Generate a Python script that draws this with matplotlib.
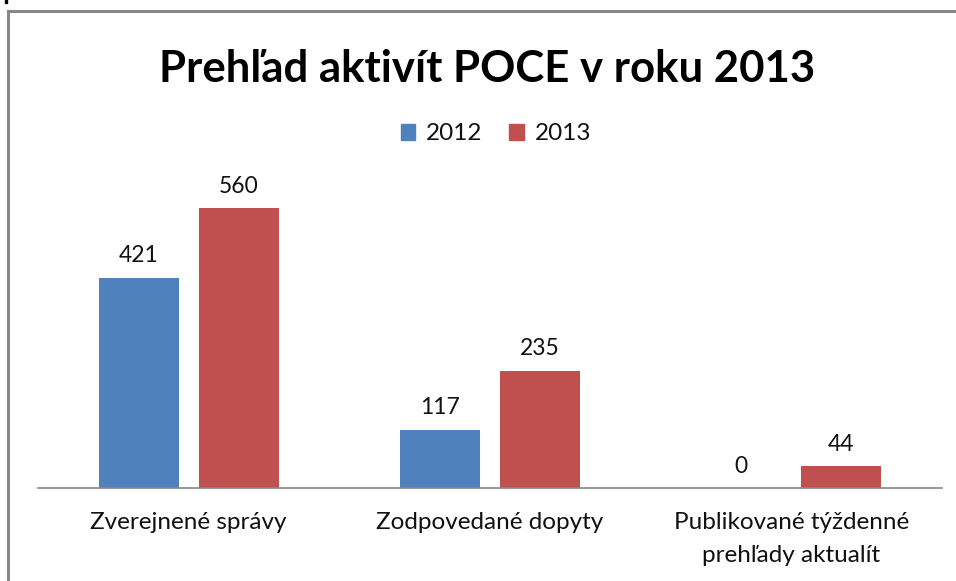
import matplotlib
matplotlib.use("Agg")
import matplotlib.pyplot as plt
from matplotlib.lines import Line2D
from matplotlib.patches import Rectangle
import numpy as np

categories = ["Zverejnené správy", "Zodpovedané dopyty", "Publikované týždenné\nprehľady aktualít"]
series_names = ["2012", "2013"]
values_2012 = [421, 117, 0]
values_2013 = [560, 235, 44]
colors = ["#4F81BD", "#C0504D"]
title = "Prehľad aktivít POCE v roku 2013"

plt.rcParams['font.family'] = ['Lato', 'DejaVu Sans']

W, H = 956, 581
fig = plt.figure(figsize=(W / 100, H / 100), dpi=100)

# axes placement in pixels
ax_left, ax_right = 38, 942
ax_bottom_px, ax_top_px = 488, 188
ax = fig.add_axes([ax_left / W, (H - ax_bottom_px) / H,
                   (ax_right - ax_left) / W, (ax_bottom_px - ax_top_px) / H])

x = np.arange(len(categories))
bw = 0.265
off = 0.166
b1 = ax.bar(x - off, values_2012, bw, color=colors[0], label=series_names[0])
b2 = ax.bar(x + off, values_2013, bw, color=colors[1], label=series_names[1])

for bars, vals in ((b1, values_2012), (b2, values_2013)):
    for rect, v in zip(bars, vals):
        ax.annotate(f"{v}", (rect.get_x() + rect.get_width() / 2, v),
                    xytext=(0, 8), textcoords="offset points",
                    ha="center", va="bottom", fontsize=16.5, color="#111111")

ax.set_xlim(-0.5, 2.5)
ax.set_ylim(0, 600)
ax.set_yticks([])
ax.set_xticks(x)
ax.set_xticklabels(categories, fontsize=17.5, color="#111111", linespacing=1.7)
ax.tick_params(axis="x", length=0, pad=17)
for s in ("top", "right", "left"):
    ax.spines[s].set_visible(False)
ax.spines["bottom"].set_color("#888888")
ax.spines["bottom"].set_linewidth(1.2)

# title
fig.text(487 / W, 1 - 69 / H, title, ha="center", va="center",
         fontsize=31.5, fontweight="bold", color="#000000")

# legend
leg = fig.legend(handles=[Rectangle((0, 0), 1, 1, color=c) for c in colors],
                 labels=series_names, loc="center", bbox_to_anchor=(496 / W, 1 - 134 / H),
                 ncol=2, frameon=False, fontsize=17.5, handlelength=0.6, handleheight=0.6,
                 handletextpad=0.45, columnspacing=1.1)
for t in leg.get_texts():
    t.set_color("#111111")

# outer frame (chart area border)
fig.add_artist(Line2D([8 / W, 1], [1 - 11 / H, 1 - 11 / H], transform=fig.transFigure,
                      color="#888888", linewidth=2.2))
fig.add_artist(Line2D([8 / W, 8 / W], [1 - 11 / H, 0], transform=fig.transFigure,
                      color="#888888", linewidth=2.2))
fig.add_artist(Rectangle((5 / W, 1 - 3 / H), 2 / W, 3 / H, transform=fig.transFigure,
                         color="black"))

fig.savefig("out.png", dpi=100)
